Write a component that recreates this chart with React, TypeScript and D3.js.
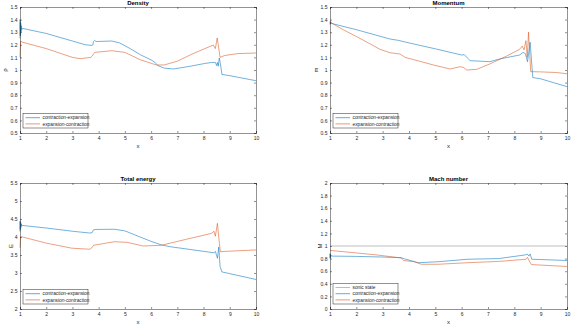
import React, { useEffect, useRef } from 'react';
import * as d3 from 'd3';

const BLUE = '#0072BD';
const ORANGE = '#D95319';
const SONIC = '#8c8c8c';
const AXIS = '#262626';

const xTicks = [1, 2, 3, 4, 5, 6, 7, 8, 9, 10];
const unitTicks = [0.5, 0.6, 0.7, 0.8, 0.9, 1, 1.1, 1.2, 1.3, 1.4, 1.5];
const energyTicks = [2, 2.5, 3, 3.5, 4, 4.5, 5, 5.5];
const machTicks = [0, 0.2, 0.4, 0.6, 0.8, 1, 1.2, 1.4, 1.6, 1.8, 2];

const densityCE: [number, number][] = [
  [1, 1.25], [1.005, 1.4], [1.01, 1.27], [1.015, 1.38], [1.02, 1.28], [1.03, 1.37], [1.04, 1.3],
  [1.05, 1.35], [1.07, 1.32], [1.1, 1.33], [2, 1.29], [3, 1.23], [3.5, 1.2], [3.75, 1.195],
  [3.78, 1.2], [3.8, 1.225], [3.85, 1.235], [3.9, 1.226], [4.5, 1.23], [4.8, 1.215], [5.2, 1.17],
  [5.6, 1.12], [6.0, 1.08], [6.15, 1.06], [6.25, 1.035], [6.5, 1.015], [6.85, 1.008], [7.5, 1.03],
  [8, 1.05], [8.3, 1.06], [8.45, 1.06], [8.5, 1.035], [8.53, 1.06], [8.56, 1.03], [8.6, 1.095],
  [8.65, 1.04], [8.7, 0.965], [9, 0.955], [10, 0.915],
];
const densityEC: [number, number][] = [
  [1, 1.1], [1.02, 1.23], [1.1, 1.22], [2, 1.17], [3, 1.1], [3.3, 1.09], [3.7, 1.1], [3.75, 1.11],
  [3.85, 1.14], [4.5, 1.153], [5, 1.14], [5.6, 1.08], [6.2, 1.04], [6.5, 1.04], [7, 1.07],
  [7.6, 1.13], [8.37, 1.198], [8.45, 1.17], [8.52, 1.254], [8.56, 1.2], [8.63, 1.1], [8.8, 1.115],
  [9.3, 1.13], [10, 1.135],
];

const momentumCE: [number, number][] = [
  [1, 1.36], [1.01, 1.385], [1.02, 1.365], [1.03, 1.38], [1.05, 1.37], [2, 1.32], [3.28, 1.246],
  [3.6, 1.235], [4, 1.215], [5, 1.168], [6.0, 1.119], [6.1, 1.122], [6.32, 1.074], [7.07, 1.066],
  [7.5, 1.09], [8.2, 1.119], [8.33, 1.14], [8.42, 1.13], [8.5, 1.066], [8.6, 1.22], [8.7, 0.94],
  [9, 0.93], [10, 0.868],
];
const momentumEC: [number, number][] = [
  [1, 1.38], [1.5, 1.32], [2.01, 1.265], [2.5, 1.21], [2.9, 1.164], [3.28, 1.137], [3.66, 1.127],
  [3.85, 1.1], [4.4, 1.07], [4.92, 1.04], [5.56, 1.008], [5.94, 1.026], [6.07, 1.02], [6.19, 1.0],
  [6.57, 1.005], [7.07, 1.048], [7.7, 1.11], [8.2, 1.164], [8.3, 1.19], [8.37, 1.16], [8.44, 1.233],
  [8.49, 1.1], [8.54, 1.3], [8.62, 0.987], [9, 0.985], [9.6, 0.98], [10, 0.97],
];

const energyCE: [number, number][] = [
  [1, 4.15], [1.005, 4.45], [1.01, 4.2], [1.015, 4.42], [1.02, 4.22], [1.03, 4.4], [1.04, 4.27],
  [1.05, 4.36], [1.08, 4.31], [1.1, 4.32], [2, 4.25], [3, 4.16], [3.66, 4.11], [3.75, 4.12],
  [3.8, 4.2], [3.93, 4.21], [4.6, 4.215], [5, 4.17], [5.96, 3.89], [6.39, 3.78], [6.73, 3.73],
  [8.12, 3.59], [8.4, 3.56], [8.45, 3.6], [8.53, 3.41], [8.58, 3.72], [8.63, 3.18], [8.7, 3.03],
  [10, 2.82],
];
const energyEC: [number, number][] = [
  [1, 3.7], [1.02, 4.01], [1.1, 4.0], [2, 3.83], [2.97, 3.69], [3.66, 3.66], [3.74, 3.7],
  [3.8, 3.77], [4.61, 3.87], [5.1, 3.85], [5.7, 3.75], [6.39, 3.77], [7.36, 3.94], [8.3, 4.1],
  [8.4, 4.16], [8.45, 4.02], [8.53, 4.38], [8.58, 4.0], [8.64, 3.59], [8.8, 3.6], [10, 3.64],
];

const machCE: [number, number][] = [
  [1, 0.8], [1.005, 0.88], [1.01, 0.81], [1.015, 0.87], [1.02, 0.82], [1.03, 0.86], [1.05, 0.84],
  [2, 0.835], [3, 0.825], [3.7, 0.815], [3.8, 0.8], [4.35, 0.735], [5.1, 0.75], [6.24, 0.79],
  [7.4, 0.8], [8.39, 0.857], [8.5, 0.87], [8.55, 0.84], [8.6, 0.875], [8.66, 0.79], [10, 0.77],
];
const machEC: [number, number][] = [
  [1, 0.93], [2, 0.89], [2.8, 0.857], [3.7, 0.81], [3.8, 0.77], [4.2, 0.75], [4.47, 0.71],
  [5.1, 0.71], [6.24, 0.735], [7.4, 0.755], [8.45, 0.79], [8.5, 0.82], [8.57, 0.76], [8.65, 0.705],
  [10, 0.675],
];
const sonicState: [number, number][] = [[1, 1], [10, 1]];

const fmt = (v: number) => String(+v.toFixed(1));

type Series = { data: [number, number][]; color: string; label: string };

type PanelProps = {
  left: number;
  top: number;
  width: number;
  height: number;
  yDomain: [number, number];
  yTicks: number[];
  title: string;
  ylabel: string;
  ylabelX: number;
  series: Series[];
  legendW: number;
};

const Panel = ({ left, top, width, height, yDomain, yTicks, title, ylabel, ylabelX, series, legendW }: PanelProps) => {
  const gRef = useRef<SVGGElement>(null);

  useEffect(() => {
    const g = d3.select(gRef.current);
    g.selectAll('*').remove();

    const x = d3.scaleLinear().domain([1, 10]).range([0, width]);
    const y = d3.scaleLinear().domain(yDomain).range([height, 0]);
    const font = "'Liberation Sans', Arial, sans-serif";

    const line = d3
      .line<[number, number]>()
      .x((d) => x(d[0]))
      .y((d) => y(d[1]));

    series.forEach((s) => {
      g.append('path')
        .attr('d', line(s.data))
        .attr('fill', 'none')
        .attr('stroke', s.color)
        .attr('stroke-width', 0.55);
    });

    // axes, ticks inward on all four sides
    const axis = (gen: d3.Axis<number>, tr: string) => {
      const a = g.append('g').attr('transform', tr).call(gen as any);
      a.select('.domain').attr('stroke', AXIS).attr('stroke-width', 0.5);
      a.selectAll('.tick line').attr('stroke', AXIS).attr('stroke-width', 0.5);
      a.selectAll('.tick text').attr('fill', AXIS).style('font-size', '5px').style('font-family', font);
      return a;
    };

    axis(d3.axisBottom(x).tickValues(xTicks).tickSize(-2).tickPadding(3).tickFormat((d) => fmt(+d)) as any, `translate(0,${height})`);
    axis(d3.axisTop(x).tickValues(xTicks).tickSize(-2).tickFormat(() => '') as any, 'translate(0,0)');
    axis(d3.axisLeft(y).tickValues(yTicks).tickSize(-2).tickPadding(2.5).tickFormat((d) => fmt(+d)) as any, 'translate(0,0)');
    axis(d3.axisRight(y).tickValues(yTicks).tickSize(-2).tickFormat(() => '') as any, `translate(${width},0)`);

    g.append('text')
      .attr('x', width / 2)
      .attr('y', -2.5)
      .attr('text-anchor', 'middle')
      .attr('fill', '#000')
      .style('font-size', '6px')
      .style('font-weight', 'bold')
      .style('font-family', font)
      .text(title);

    g.append('text')
      .attr('x', width / 2)
      .attr('y', height + 15)
      .attr('text-anchor', 'middle')
      .attr('fill', AXIS)
      .style('font-size', '6px')
      .style('font-family', font)
      .text('x');

    g.append('text')
      .attr('transform', `translate(${ylabelX},${height / 2}) rotate(-90)`)
      .attr('text-anchor', 'middle')
      .attr('fill', AXIS)
      .style('font-size', '6px')
      .style('font-family', font)
      .text(ylabel);

    // legend, lower left
    const rowH = 6.2;
    const legH = series.length * rowH + 2;
    const leg = g.append('g').attr('transform', `translate(3,${height - 5 - legH})`);
    leg.append('rect')
      .attr('width', legendW)
      .attr('height', legH)
      .attr('fill', '#fff')
      .attr('stroke', AXIS)
      .attr('stroke-width', 0.5);
    series.forEach((s, i) => {
      const cy = 1 + rowH * i + rowH / 2;
      leg.append('line')
        .attr('x1', 2.5)
        .attr('x2', 17)
        .attr('y1', cy)
        .attr('y2', cy)
        .attr('stroke', s.color)
        .attr('stroke-width', 0.6);
      leg.append('text')
        .attr('x', 19.5)
        .attr('y', cy + 1.7)
        .attr('fill', AXIS)
        .style('font-size', '4.8px')
        .style('font-family', font)
        .text(s.label);
    });
  }, [width, height, yDomain, yTicks, title, ylabel, ylabelX, series, legendW]);

  return <g ref={gRef} transform={`translate(${left},${top})`} />;
};

const ce = 'contraction-expansion';
const ec = 'expansion-contraction';

const App = () => {
  useEffect(() => {
    document.body.style.margin = '0';
  }, []);

  return (
    <svg width={571} height={326} style={{ display: 'block', background: '#fff' }}>
      <Panel
        left={20} top={7} width={236} height={126}
        yDomain={[0.5, 1.5]} yTicks={unitTicks}
        title="Density" ylabel="ρ" ylabelX={-13}
        series={[{ data: densityCE, color: BLUE, label: ce }, { data: densityEC, color: ORANGE, label: ec }]}
        legendW={65}
      />
      <Panel
        left={330} top={7} width={237} height={126}
        yDomain={[0.5, 1.5]} yTicks={unitTicks}
        title="Momentum" ylabel="m" ylabelX={-12}
        series={[{ data: momentumCE, color: BLUE, label: ce }, { data: momentumEC, color: ORANGE, label: ec }]}
        legendW={65}
      />
      <Panel
        left={20} top={183} width={236} height={126}
        yDomain={[2, 5.5]} yTicks={energyTicks}
        title="Total energy" ylabel="E" ylabelX={-7}
        series={[{ data: energyCE, color: BLUE, label: ce }, { data: energyEC, color: ORANGE, label: ec }]}
        legendW={65}
      />
      <Panel
        left={330} top={183} width={237} height={126}
        yDomain={[0, 2]} yTicks={machTicks}
        title="Mach number" ylabel="M" ylabelX={-8}
        series={[
          { data: sonicState, color: SONIC, label: 'sonic state' },
          { data: machCE, color: BLUE, label: ce },
          { data: machEC, color: ORANGE, label: ec },
        ]}
        legendW={65}
      />
    </svg>
  );
};

export default App;
